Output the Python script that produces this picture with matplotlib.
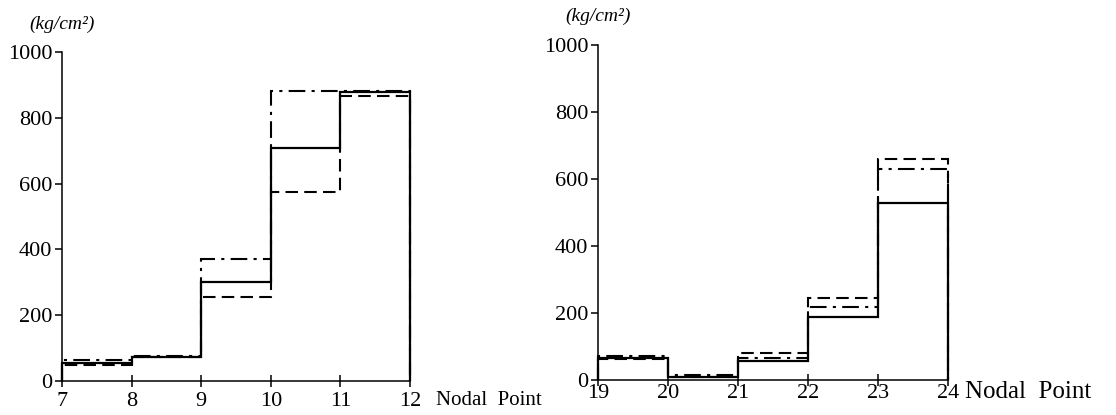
import matplotlib.pyplot as plt
from matplotlib.transforms import blended_transform_factory

plt.rcParams['font.family'] = ['Liberation Serif', 'DejaVu Serif']

# left panel: nodal points 7..12
left_edges = [7, 8, 9, 10, 11, 12]
left_solid = [55, 73, 302, 708, 878]
left_dashed = [50, 72, 254, 575, 866]
left_dashdot = [65, 75, 370, 882, 882]

# right panel: nodal points 19..24
right_edges = [19, 20, 21, 22, 23, 24]
right_solid = [65, 10, 58, 188, 530]
right_dashed = [62, 8, 82, 245, 660]
right_dashdot = [72, 15, 65, 218, 630]

y_ticks = [0, 200, 400, 600, 800, 1000]
unit = '(kg/cm²)'
x_name = 'Nodal  Point'

fig = plt.figure(figsize=(11.16, 4.15), dpi=100)
ax1 = fig.add_axes([0.0556, 0.0819, 0.3118, 0.7928])
ax2 = fig.add_axes([0.5358, 0.0843, 0.3136, 0.807])


def draw(ax, edges, solid, dashed, dashdot, label_pad, name_dx, name_y, name_size):
    ax.stairs(dashed, edges, baseline=0, color='black', lw=1.5, ls=(0, (6, 3)), clip_on=False)
    ax.stairs(dashdot, edges, baseline=0, color='black', lw=1.5, ls=(0, (8, 3, 1.5, 3)), clip_on=False)
    ax.stairs(solid, edges, baseline=0, color='black', lw=1.6, clip_on=False)
    ax.set_xlim(edges[0], edges[-1])
    ax.set_ylim(0, 1000)
    ax.set_xticks(edges)
    ax.set_yticks(y_ticks)
    ax.spines['top'].set_visible(False)
    ax.spines['right'].set_visible(False)
    ax.spines['left'].set_linewidth(1.1)
    ax.spines['bottom'].set_linewidth(1.1)
    ax.tick_params(axis='y', direction='out', length=5, width=1.1, labelsize=16, pad=2)
    ax.tick_params(axis='x', direction='inout', length=8, width=1.1, labelsize=16, pad=label_pad)
    ax.text(0.0, 1.085, unit, transform=ax.transAxes, fontsize=14, style='italic',
            ha='center', va='center')
    tr = blended_transform_factory(ax.transData, ax.transAxes)
    ax.text(edges[-1] + name_dx, name_y, x_name, transform=tr, fontsize=name_size,
            ha='left', va='center')


draw(ax1, left_edges, left_solid, left_dashed, left_dashdot, 4, 0.38, -0.058, 15)
draw(ax2, right_edges, right_solid, right_dashed, right_dashdot, -1, 0.24, -0.036, 18)

plt.savefig('out.png', dpi=100)
